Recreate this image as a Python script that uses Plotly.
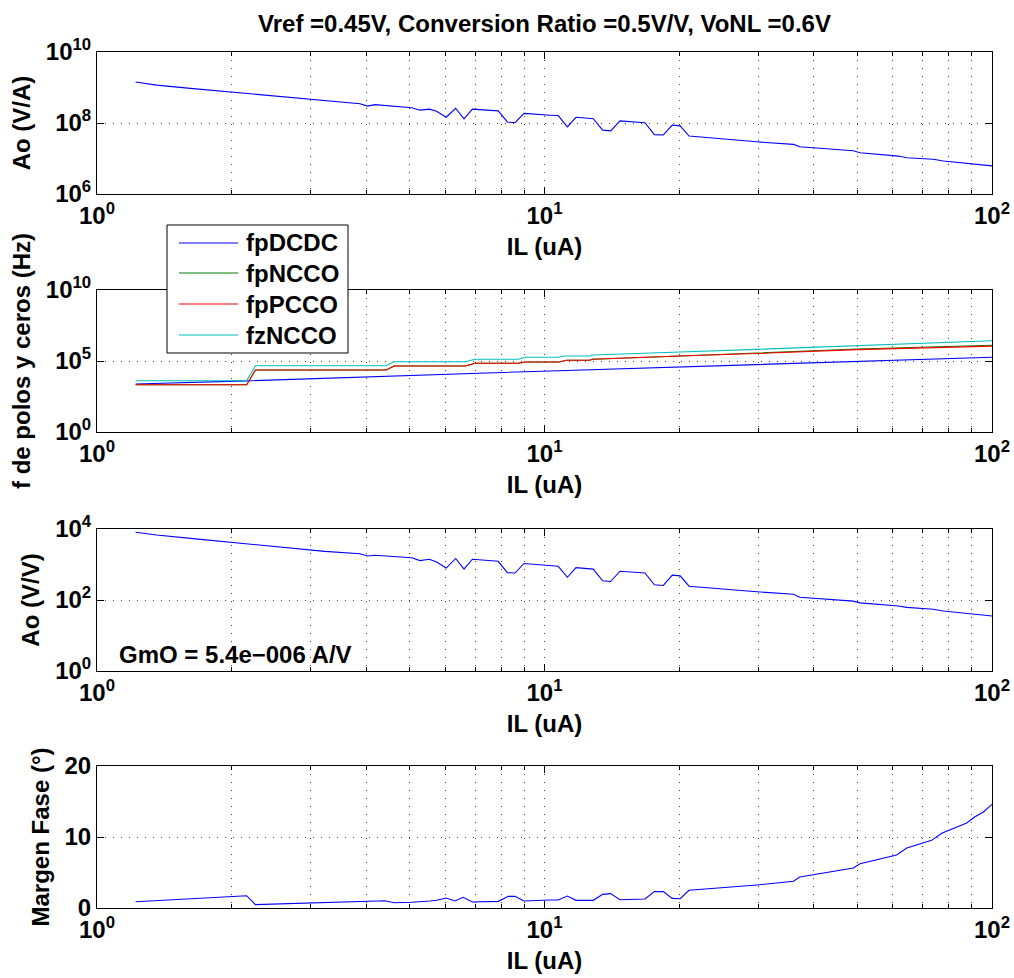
import plotly.graph_objects as go

# ---- data -------------------------------------------------------------
# load current sweep (uA) for the open-loop gain curves
il_gain = [1.22, 1.36, 1.64, 2.0, 2.70, 3.23, 3.87, 4.02, 4.18, 5.05, 5.27, 5.53,
           5.74, 6.03, 6.33, 6.61, 6.90, 7.88, 8.26, 8.59, 9.0, 10.3, 10.73, 11.25,
           11.76, 12.85, 13.49, 14.05, 14.75, 16.77, 17.6, 18.43, 19.3, 20.1, 21.04,
           29.8, 36.0, 37.2, 49.0, 50.7, 61.8, 64.5, 73.9, 77.9, 89.3, 100]

# transimpedance open-loop gain (V/A)
ao_va = [1.43e9, 1.17e9, 9.3e8, 7.4e8, 5.2e8, 4.2e8, 3.5e8, 3.0e8, 3.3e8, 2.7e8,
         2.3e8, 2.45e8, 2.15e8, 1.45e8, 2.6e8, 1.3e8, 2.45e8, 2.2e8, 1.07e8, 1.02e8,
         1.86e8, 1.66e8, 1.62e8, 7.8e7, 1.45e8, 1.32e8, 6.3e7, 6.0e7, 1.15e8, 1.02e8,
         4.7e7, 4.6e7, 8.7e7, 8.3e7, 4.3e7, 2.95e7, 2.5e7, 2.15e7, 1.66e7, 1.45e7,
         1.17e7, 1.05e7, 9.5e6, 8.5e6, 7.1e6, 6.2e6]

# voltage open-loop gain (V/V)
ao_vv = [8070, 6760, 5370, 4270, 3020, 2340, 2000, 1740, 1820, 1550, 1290, 1410,
         1170, 794, 1480, 741, 1410, 1230, 589, 575, 1070, 955, 891, 437, 813, 741,
         347, 331, 646, 575, 269, 257, 501, 479, 245, 170, 145, 120, 93, 83, 68, 62,
         55, 49, 42, 35.5]

# poles and zeros (Hz)
il_dcdc = [1.22, 2.16, 10.3, 20.1, 40.0, 100]
fp_dcdc = [2400, 4000, 2.0e4, 3.7e4, 7.6e4, 1.82e5]

il_cco = [1.22, 2.16, 2.26, 4.43, 4.61, 6.66, 6.99, 8.74, 9.06, 10.8, 11.2, 12.6,
          12.8, 14.5, 16.3, 20.1, 29.8, 50.0, 100]
fp_ncco = [2140, 2140, 23400, 23400, 44700, 44700, 69200, 69200, 85100, 85100,
           1.12e5, 1.12e5, 1.32e5, 1.48e5, 1.70e5, 2.24e5, 3.63e5, 7.08e5, 1.29e6]
fp_pcco = [2140, 2140, 23400, 23400, 44700, 44700, 69200, 69200, 85100, 85100,
           1.12e5, 1.12e5, 1.32e5, 1.48e5, 1.70e5, 2.24e5, 3.39e5, 6.31e5, 1.12e6]

il_zero = [1.22, 2.16, 2.26, 4.43, 4.61, 6.66, 6.99, 8.74, 9.06, 10.7, 11.1, 12.6,
           12.8, 14.5, 20.1, 29.8, 50.0, 100]
fz_ncco = [4070, 4070, 46800, 46800, 89100, 89100, 1.32e5, 1.32e5, 1.82e5, 1.82e5,
           2.24e5, 2.24e5, 2.63e5, 2.95e5, 4.27e5, 6.61e5, 1.26e6, 2.69e6]

# phase margin (deg)
il_pm = [1.22, 2.16, 2.26, 4.01, 4.40, 4.61, 5.05, 5.55, 5.74, 6.03, 6.31, 6.58,
         6.90, 7.88, 8.31, 8.59, 9.0, 10.3, 10.73, 11.25, 11.76, 12.85, 13.49, 14.05,
         14.75, 16.77, 17.6, 18.43, 19.3, 20.1, 21.04, 29.8, 36.0, 37.2, 49.0, 50.7,
         61.2, 64.5, 73.3, 77.2, 87.8, 91.6, 95.7, 100]
pm = [0.89, 1.73, 0.47, 1.03, 1.03, 0.75, 0.80, 0.99, 1.08, 1.41, 0.99, 1.5, 0.85,
      0.94, 1.64, 1.64, 0.99, 1.13, 1.13, 1.69, 1.08, 1.08, 1.92, 2.02, 1.17, 1.27,
      2.3, 2.3, 1.36, 1.31, 2.49, 3.24, 3.76, 4.37, 5.63, 6.24, 7.46, 8.45, 9.53,
      10.52, 11.97, 12.86, 13.52, 14.6]

x_ticks = [1, 10, 100]
x_ticktext = ["10<sup>0</sup>", "10<sup>1</sup>", "10<sup>2</sup>"]
x_minor = [2, 3, 4, 5, 6, 7, 8, 9, 20, 30, 40, 50, 60, 70, 80, 90]

# ---- figure -----------------------------------------------------------
W, H = 1014, 978
ML, MR, MT, MB = 97, 22, 52, 70
PW, PH = W - ML - MR, H - MT - MB
FONT = "Liberation Sans, Arial, sans-serif"

# panel top/bottom edges in pixels
panels = [(52, 194), (290, 432), (529, 671), (766, 908)]


def dom(top, bot):
    return [(H - MB - bot) / PH, (H - MB - top) / PH]


def px_x(px):
    return (px - ML) / PW


def px_y(py):
    return (H - MB - py) / PH


fig = go.Figure()
BLUE = "#0000ff"
LW = 1.1

fig.add_trace(go.Scatter(x=il_gain, y=ao_va, mode="lines", line=dict(color=BLUE, width=LW),
                         showlegend=False, xaxis="x", yaxis="y"))

fig.add_trace(go.Scatter(x=il_dcdc, y=fp_dcdc, mode="lines", name="fpDCDC",
                         line=dict(color=BLUE, width=LW), xaxis="x2", yaxis="y2"))
fig.add_trace(go.Scatter(x=il_cco, y=fp_ncco, mode="lines", name="fpNCCO",
                         line=dict(color="#008000", width=LW), xaxis="x2", yaxis="y2"))
fig.add_trace(go.Scatter(x=il_cco, y=fp_pcco, mode="lines", name="fpPCCO",
                         line=dict(color="#ff0000", width=LW), xaxis="x2", yaxis="y2"))
fig.add_trace(go.Scatter(x=il_zero, y=fz_ncco, mode="lines", name="fzNCCO",
                         line=dict(color="#00bfbf", width=LW), xaxis="x2", yaxis="y2"))

fig.add_trace(go.Scatter(x=il_gain, y=ao_vv, mode="lines", line=dict(color=BLUE, width=LW),
                         showlegend=False, xaxis="x3", yaxis="y3"))

fig.add_trace(go.Scatter(x=il_pm, y=pm, mode="lines", line=dict(color=BLUE, width=LW),
                         showlegend=False, xaxis="x4", yaxis="y4"))

tickfont = dict(family=FONT, size=24, color="black", weight="bold")
titlefont = dict(family=FONT, size=24, color="black", weight="bold")
GRID = dict(showgrid=True, gridcolor="#444", griddash="1px,7px", gridwidth=1)

y_specs = [
    dict(type="log", range=[6, 10], tickvals=[1e6, 1e8, 1e10],
         ticktext=["10<sup>6</sup>", "10<sup>8</sup>", "10<sup>10</sup>"], title="Ao (V/A)"),
    dict(type="log", range=[0, 10], tickvals=[1, 1e5, 1e10],
         ticktext=["10<sup>0</sup>", "10<sup>5</sup>", "10<sup>10</sup>"],
         title="f de polos y ceros (Hz)"),
    dict(type="log", range=[0, 4], tickvals=[1, 100, 1e4],
         ticktext=["10<sup>0</sup>", "10<sup>2</sup>", "10<sup>4</sup>"], title="Ao (V/V)"),
    dict(type="linear", range=[0, 20], tickvals=[0, 10, 20],
         ticktext=["0", "10", "20"], title="Margen Fase (°)"),
]

for i, ((top, bot), ys) in enumerate(zip(panels, y_specs), start=1):
    sfx = "" if i == 1 else str(i)
    fig.layout["xaxis" + sfx] = dict(
        type="log", range=[0, 2], domain=[0, 1], anchor="y" + sfx, automargin=False,
        tickmode="array", tickvals=x_ticks, ticktext=x_ticktext,
        ticks="inside", ticklen=7, tickwidth=1, tickcolor="black",
        showline=True, linecolor="black", linewidth=1, mirror="allticks",
        tickfont=tickfont, zeroline=False,
        title=dict(text="IL (uA)", font=titlefont, standoff=10),
        minor=dict(tickmode="array", tickvals=x_minor, ticks="inside", ticklen=4,
                   tickcolor="black", **GRID),
        **GRID,
    )
    fig.layout["yaxis" + sfx] = dict(
        type=ys["type"], range=ys["range"], domain=dom(top, bot), anchor="x" + sfx,
        automargin=False,
        tickmode="array", tickvals=ys["tickvals"], ticktext=ys["ticktext"],
        ticks="inside", ticklen=7, tickwidth=1, tickcolor="black",
        showline=True, linecolor="black", linewidth=1, mirror="allticks",
        tickfont=tickfont, zeroline=False,
        title=dict(text=ys["title"], font=titlefont, standoff=8),
        **GRID,
    )

fig.add_annotation(text="GmO = 5.4e\u2212006 A/V", xref="x3 domain", yref="y3 domain",
                   x=0.022, y=0.113, xanchor="left", yanchor="middle", showarrow=False,
                   font=dict(family=FONT, size=24, color="black", weight="bold"))

# boxed legend for the pole/zero panel, built from the traces on x2/y2
box = dict(x0=167, x1=348, y0=225, y1=353)
fig.add_shape(type="rect", xref="paper", yref="paper", layer="above",
              x0=px_x(box["x0"]), x1=px_x(box["x1"]), y0=px_y(box["y1"]), y1=px_y(box["y0"]),
              fillcolor="white", line=dict(color="black", width=1))
row_y = [243, 273, 304, 335]
legend_traces = [t for t in fig.data if t.showlegend is not False]
for tr, ry in zip(legend_traces, row_y):
    fig.add_shape(type="line", xref="paper", yref="paper", layer="above",
                  x0=px_x(179), x1=px_x(238), y0=px_y(ry), y1=px_y(ry),
                  line=dict(color=tr.line.color, width=LW))
    fig.add_annotation(text=tr.name, xref="paper", yref="paper", x=px_x(244), y=px_y(ry),
                       xanchor="left", yanchor="middle", showarrow=False,
                       font=dict(family=FONT, size=24, color="black", weight="bold"))

fig.update_layout(
    width=W, height=H,
    margin=dict(l=ML, r=MR, t=MT, b=MB),
    paper_bgcolor="white", plot_bgcolor="white",
    title=dict(text="Vref =0.45V, Conversion Ratio =0.5V/V, VoNL =0.6V",
               x=0.5, xref="paper", y=1 - 24 / H, yref="container",
               xanchor="center", yanchor="middle",
               font=dict(family=FONT, size=24, color="black", weight="bold")),
    showlegend=False,
)

fig.write_html("out.html")
